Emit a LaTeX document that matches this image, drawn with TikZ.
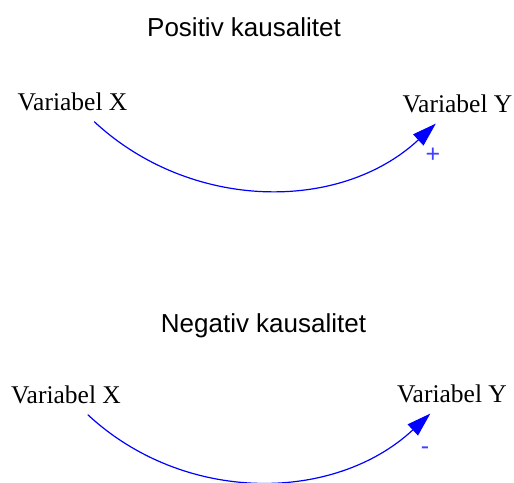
\documentclass[tikz,border=0pt]{standalone}
\usepackage{fontspec}
\setmainfont{Liberation Serif}
\newfontfamily\titlefont{Liberation Sans}
\usetikzlibrary{arrows.meta}

\tikzset{
  heading/.style={anchor=base,font=\titlefont\fontsize{26}{30}\selectfont},
  var/.style={anchor=base,inner sep=11pt,font=\fontsize{25.5}{30}\selectfont},
  sign/.style={text=blue!75,font=\titlefont\fontsize{25}{28}\selectfont},
  link/.style={draw=blue,line width=1.2pt,-{Triangle[length=24pt,width=15pt]}}
}

\begin{document}
\begin{tikzpicture}[x=1pt,y=-1pt]
\useasboundingbox (0,0) rectangle (514,482);
\begin{scope}
\draw(244,36) node[heading] (headP) {Positiv kausalitet};
\draw(72.5,110) node[var] (xP) {Variabel X};
\draw(457.5,112) node[var] (yP) {Variabel Y};
\draw[link] (xP) to[out=-43,in=-137,looseness=0.98] (yP);
\draw(433,155) node[sign] (plusP) {+};
\end{scope}
\begin{scope}
\draw(263.5,332) node[heading] (headN) {Negativ kausalitet};
\draw(66,403) node[var] (xN) {Variabel X};
\draw(452,402) node[var] (yN) {Variabel Y};
\draw[link] (xN) to[out=-43,in=-137,looseness=0.98] (yN);
\draw(425,451) node[sign] (minusN) {-};
\end{scope}
\end{tikzpicture}
\end{document}
